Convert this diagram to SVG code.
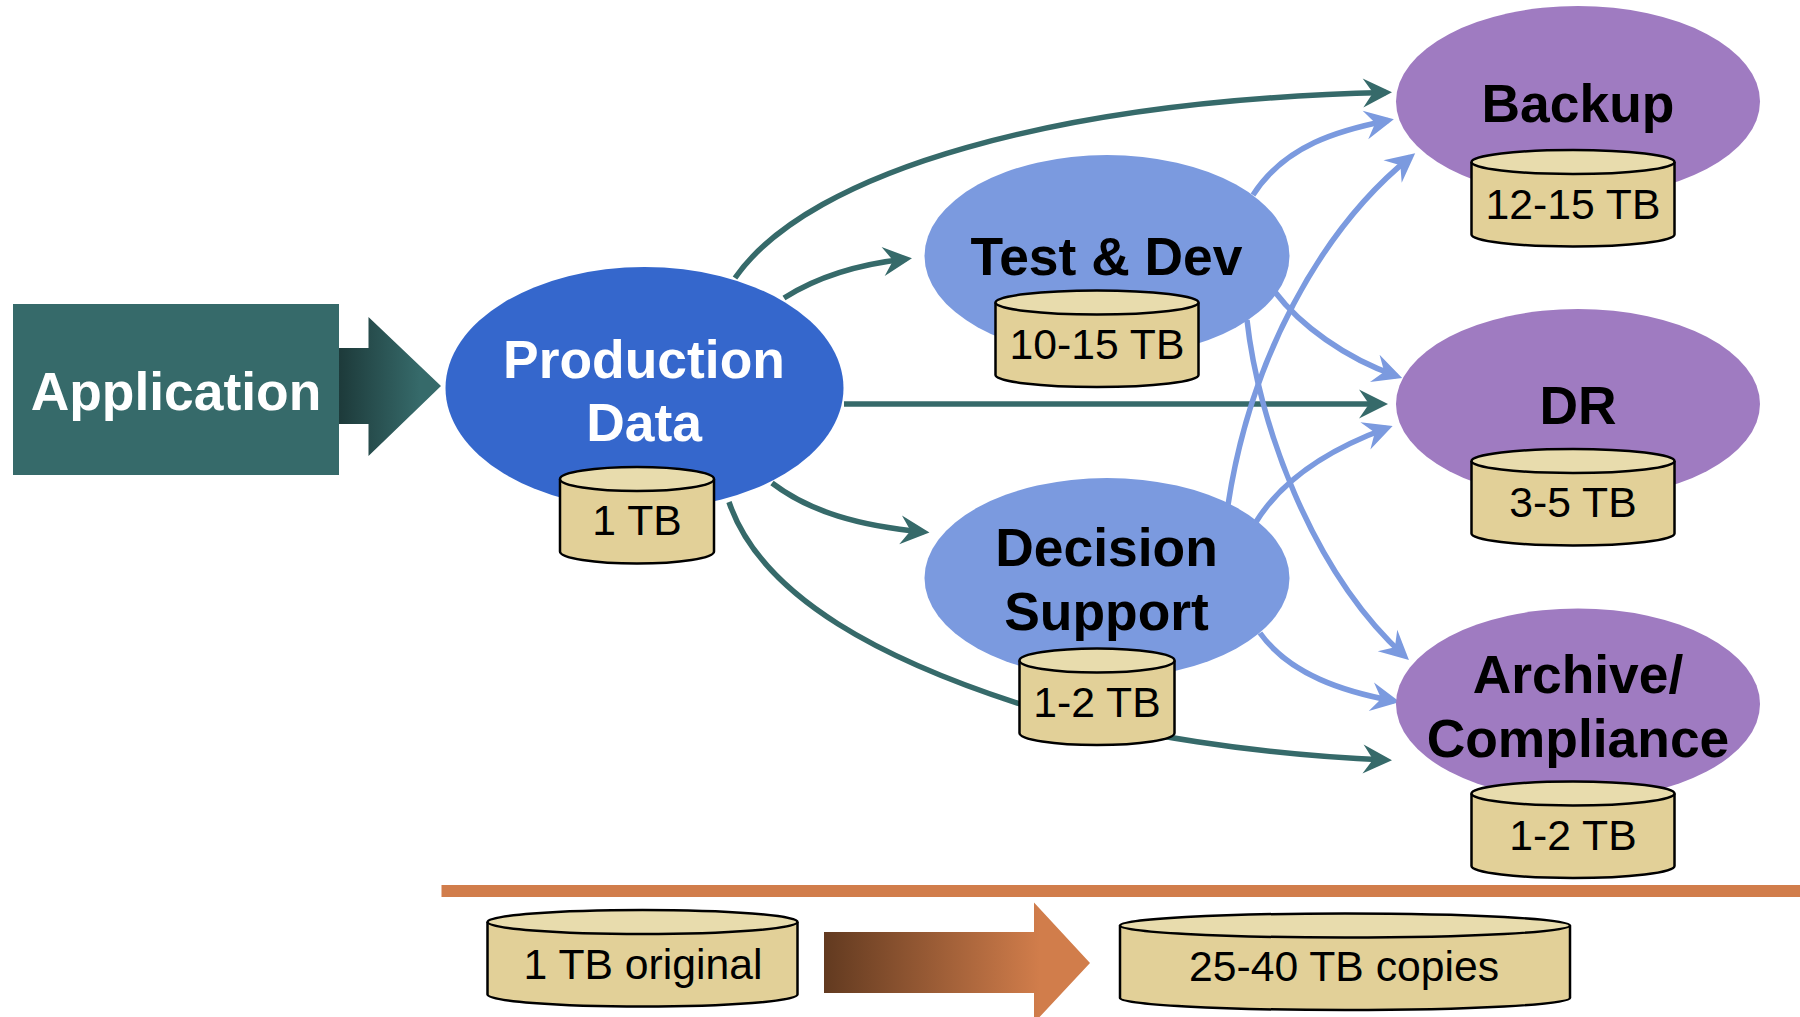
<svg xmlns="http://www.w3.org/2000/svg" width="1800" height="1017" viewBox="0 0 1800 1017">
<style>
text{font-family:"Liberation Sans",Arial,sans-serif;text-anchor:middle}
.t{font-size:53.400px;font-weight:bold;fill:#000}
.w{fill:#fff}
.c{font-size:42.700px;fill:#000}
.body{fill:#E2D098;stroke:#000;stroke-width:2.500}
.top{fill:#E8DCAD;stroke:#000;stroke-width:2.500}
.teal{fill:none;stroke:#366A6A;stroke-width:5.500;marker-end:url(#ht)}
.blue{fill:none;stroke:#7B9ADF;stroke-width:5.500;marker-end:url(#hb)}
.prod{fill:#3567CC}.mid{fill:#7B9ADF}.pur{fill:#9F7BC1}
</style>
<defs>
<linearGradient id="g1" gradientUnits="userSpaceOnUse" x1="339" y1="0" x2="420" y2="0"><stop offset="0" stop-color="#1D3A3A"/><stop offset="1" stop-color="#366A6A"/></linearGradient>
<linearGradient id="g2" gradientUnits="userSpaceOnUse" x1="824" y1="0" x2="1040" y2="0"><stop offset="0" stop-color="#623A20"/><stop offset="1" stop-color="#D17D4B"/></linearGradient>
<marker id="ht" markerUnits="userSpaceOnUse" viewBox="-1 -16 32 32" markerWidth="32" markerHeight="32" refX="23" refY="0" orient="auto"><path d="M0,-14.500L29,0L0,14.500L10,0Z" fill="#366A6A"/></marker>
<marker id="hb" markerUnits="userSpaceOnUse" viewBox="-1 -16 32 32" markerWidth="32" markerHeight="32" refX="23" refY="0" orient="auto"><path d="M0,-14.500L29,0L0,14.500L10,0Z" fill="#7B9ADF"/></marker>
</defs>
<g id="connectors">
<path class="teal" d="M735,278C810,170 1060,100 1386,92.500"/>
<path class="teal" d="M784,298C820,275 860,264 906,259"/>
<path class="teal" d="M844,404H1382"/>
<path class="teal" d="M772,483C810,512 860,526 923.500,532"/>
<path class="teal" d="M729,502C762,600 890,662 1020,704C1130,735 1260,755 1386,760"/>
<path class="blue" d="M1253,195C1285,145 1340,130 1388,120.500"/>
<path class="blue" d="M1228,505C1250,360 1320,230 1410.500,157"/>
<path class="blue" d="M1275,292C1300,325 1345,358 1396.500,376"/>
<path class="blue" d="M1247,320C1258,420 1310,570 1404.500,656"/>
<path class="blue" d="M1256,522C1285,475 1335,447 1387,428"/>
<path class="blue" d="M1260,633C1290,675 1345,692 1394,701"/>
</g>
<g id="application">
<rect x="13" y="304" width="326" height="171" fill="#366A6A"/>
<text class="t w" x="176" y="409.500">Application</text>
</g>
<path id="app-arrow" d="M339,348H368.500V317L441,386L368.500,456V424H339Z" fill="url(#g1)"/>
<g id="production">
<ellipse class="prod" cx="644.500" cy="388" rx="199" ry="121"/>
<text class="t w" x="644" y="377.500">Production</text>
<text class="t w" x="644" y="441">Data</text>
<path class="body" transform="translate(560,467)" d="M0,12V84.500A77,12 0 0 0 154,84.500V12"/><ellipse class="top" cx="637" cy="479" rx="77" ry="12"/>
<text class="c" x="637" y="535">1 TB</text>
</g>
<g id="testdev">
<ellipse class="mid" cx="1107" cy="256" rx="182.500" ry="101"/>
<text class="t" x="1106.500" y="275">Test &amp; Dev</text>
<path class="body" transform="translate(995.500,290.500)" d="M0,12V84.500A101.500,12 0 0 0 203,84.500V12"/><ellipse class="top" cx="1097" cy="302.500" rx="101.500" ry="12"/>
<text class="c" x="1097" y="359">10-15 TB</text>
</g>
<g id="decision">
<ellipse class="mid" cx="1107" cy="578" rx="182.500" ry="100"/>
<text class="t" x="1106.500" y="566">Decision</text>
<text class="t" x="1106.500" y="629.500">Support</text>
<path class="body" transform="translate(1019.500,648.500)" d="M0,12V84.500A77.500,12 0 0 0 155,84.500V12"/><ellipse class="top" cx="1097" cy="660.500" rx="77.500" ry="12"/>
<text class="c" x="1097" y="717">1-2 TB</text>
</g>
<g id="backup">
<ellipse class="pur" cx="1578" cy="101.500" rx="182" ry="95.500"/>
<text class="t" x="1578" y="122">Backup</text>
<path class="body" transform="translate(1471.500,150)" d="M0,12V84.500A101.500,12 0 0 0 203,84.500V12"/><ellipse class="top" cx="1573" cy="162" rx="101.500" ry="12"/>
<text class="c" x="1573" y="218.500">12-15 TB</text>
</g>
<g id="dr">
<ellipse class="pur" cx="1578" cy="404" rx="182" ry="95"/>
<text class="t" x="1578" y="424">DR</text>
<path class="body" transform="translate(1471.500,449)" d="M0,12V84.500A101.500,12 0 0 0 203,84.500V12"/><ellipse class="top" cx="1573" cy="461" rx="101.500" ry="12"/>
<text class="c" x="1573" y="517">3-5 TB</text>
</g>
<g id="archive">
<ellipse class="pur" cx="1578" cy="704" rx="182" ry="95.500"/>
<text class="t" x="1578" y="692.500">Archive/</text>
<text class="t" x="1578" y="756.500">Compliance</text>
<path class="body" transform="translate(1471.500,781.500)" d="M0,12V84.500A101.500,12 0 0 0 203,84.500V12"/><ellipse class="top" cx="1573" cy="793.500" rx="101.500" ry="12"/>
<text class="c" x="1573" y="850">1-2 TB</text>
</g>
<rect id="divider" x="441.500" y="885" width="1358.500" height="12" fill="#D17D4B"/>
<g id="original">
<path class="body" transform="translate(487.500,910)" d="M0,12V84.500A155,12 0 0 0 310,84.500V12"/><ellipse class="top" cx="642.500" cy="922" rx="155" ry="12"/>
<text class="c" x="643" y="978.500">1 TB original</text>
</g>
<path id="copy-arrow" d="M824,932H1034V902.500L1090,963L1034,1023V993H824Z" fill="url(#g2)"/>
<g id="copies">
<path class="body" transform="translate(1120,913.500)" d="M0,12V84.500A225,12 0 0 0 450,84.500V12"/><ellipse class="top" cx="1345" cy="925.500" rx="225" ry="12"/>
<text class="c" x="1344" y="981">25-40 TB copies</text>
</g>
</svg>
